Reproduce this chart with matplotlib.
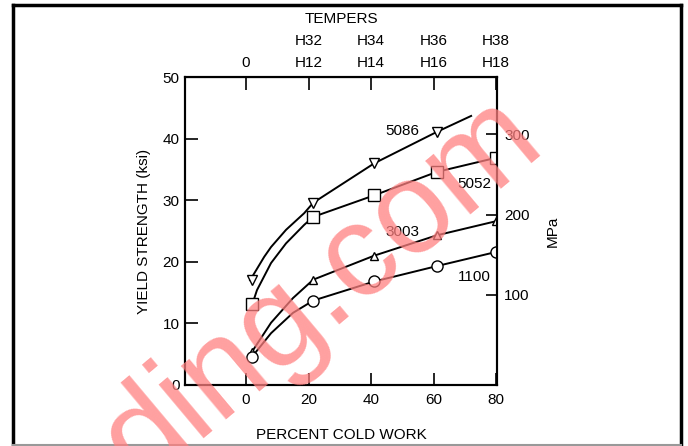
# Yield strength of aluminium alloys vs percent cold work
import matplotlib.pyplot as plt
from matplotlib.lines import Line2D

plt.rcParams['font.family'] = ['Liberation Sans', 'DejaVu Sans']

# marker points (percent cold work, yield strength ksi)
x_marks = [2, 21.5, 41, 61, 80]
y_5086 = [17.0, 29.6, 36.0, 41.1]
y_5052 = [13.1, 27.3, 30.8, 34.6, 36.9]
y_3003 = [5.4, 17.1, 21.0, 24.3, 26.6]
y_1100 = [4.6, 13.7, 16.8, 19.3, 21.6]

# points
cx_5086 = [1.3, 5.8, 8, 12.8, 18.6, 21.5, 41, 61, 72]
cy_5086 = [17.0, 20.8, 22.4, 25.2, 27.9, 29.6, 36.0, 41.1, 43.7]
cx_5052 = [2, 3.5, 8, 12.8, 18.6, 21.5, 41, 61, 80]
cy_5052 = [13.1, 15.4, 19.8, 23.0, 26.0, 27.3, 30.8, 34.6, 36.9]
cx_3003 = [1.8, 8, 15, 21.5, 41, 61, 80]
cy_3003 = [5.3, 10.1, 14.1, 17.1, 21.0, 24.3, 26.6]
cx_1100 = [1.8, 8, 15, 21.5, 41, 61, 80]
cy_1100 = [4.5, 8.4, 11.7, 13.7, 16.8, 19.3, 21.6]

bottom_ticks = [0, 20, 40, 60, 80]
temper_labels = ['0', 'H32\nH12', 'H34\nH14', 'H36\nH16', 'H38\nH18']
mpa_ticks = [100, 200, 300]

fs = 11

fig = plt.figure(figsize=(6.88, 4.46), dpi=100)
ax = fig.add_axes([0.269, 0.137, 0.4535, 0.690])

ax.plot(cx_5086, cy_5086, color='black', lw=1.4)
ax.plot(cx_5052, cy_5052, color='black', lw=1.4)
ax.plot(cx_3003, cy_3003, color='black', lw=1.4)
ax.plot(cx_1100, cy_1100, color='black', lw=1.4)

mk = dict(color='black', mfc='white', mew=1.0, ls='none', zorder=3)
ax.plot(x_marks[:4], y_5086, marker='v', ms=7, **mk)
ax.plot(x_marks, y_5052, marker='s', ms=8, **mk)
ax.plot(x_marks, y_3003, marker='^', ms=6, **mk)
ax.plot(x_marks, y_1100, marker='o', ms=8, **mk)

ax.text(50, 41.3, '5086', fontsize=fs, ha='center', va='center')
ax.text(73, 32.6, '5052', fontsize=fs, ha='center', va='center')
ax.text(50, 24.8, '3003', fontsize=fs, ha='center', va='center')
ax.text(73, 17.5, '1100', fontsize=fs, ha='center', va='center')

ax.set_xlim(-19.5, 80.3)
ax.set_ylim(0, 50)
ax.set_xticks(bottom_ticks)
ax.set_yticks([0, 10, 20, 30, 40, 50])
ax.tick_params(axis='both', direction='in', length=9, width=1.2, labelsize=fs)
ax.tick_params(axis='x', pad=6)
ax.tick_params(axis='y', pad=4)
ax.set_xlabel('PERCENT COLD WORK', fontsize=fs, labelpad=15)
ax.set_ylabel('YIELD STRENGTH (ksi)', fontsize=fs, labelpad=8)
for s in ax.spines.values():
    s.set_linewidth(1.5)

# top axis with tempers
top = ax.secondary_xaxis('top')
top.set_xticks(bottom_ticks)
top.set_xticklabels(temper_labels, linespacing=1.75)
top.tick_params(direction='in', length=9, width=1.2, labelsize=fs, pad=5)
top.set_xlabel('TEMPERS', fontsize=fs, labelpad=8)

# right axis in MPa
ax2 = ax.twinx()
ax2.set_ylim(-12, 371)
ax2.set_yticks(mpa_ticks)
ax2.tick_params(direction='in', length=8, width=1.2, labelsize=fs, pad=5)
ax2.set_ylabel('MPa', fontsize=fs, rotation=90, labelpad=12)
for s in ax2.spines.values():
    s.set_linewidth(1.5)

# watermark
fig.text(0.468, 0.35, 'ding.com', fontsize=94, color='#ff8080', alpha=0.75,
         rotation=40, ha='center', va='center', zorder=10)

# frame around picture
fig.add_artist(Line2D([0.019, 0.019], [0.002, 0.989], color='black', lw=2.5))
fig.add_artist(Line2D([0.019, 0.990], [0.989, 0.989], color='black', lw=2.5))
fig.add_artist(Line2D([0.990, 0.990], [0.002, 0.989], color='black', lw=2.5))
fig.add_artist(Line2D([0.019, 0.990], [0.002, 0.002], color='#999999', lw=1.5))

fig.savefig('out.png', dpi=100)
